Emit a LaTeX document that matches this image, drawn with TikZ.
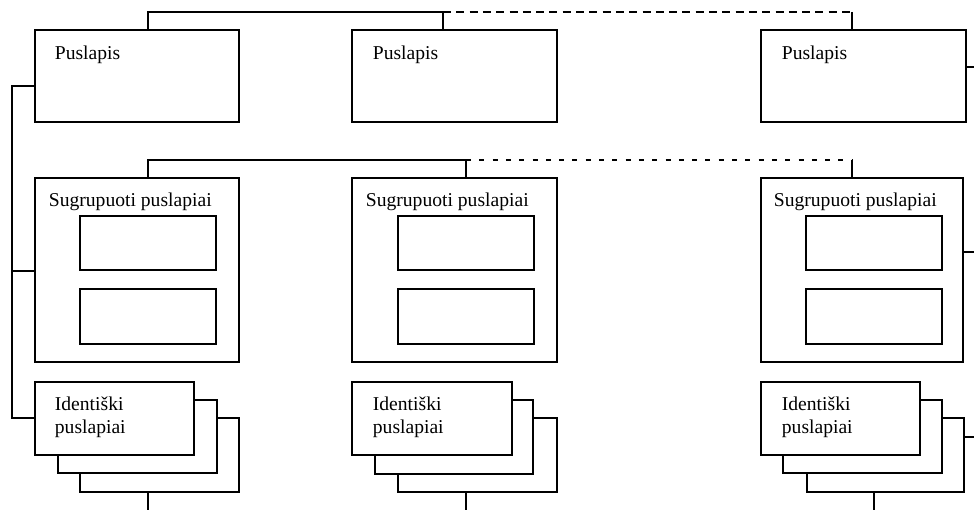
\documentclass[tikz,border=0pt]{standalone}
\usepackage{fontspec}
\setmainfont{Liberation Serif}
\begin{document}
\begin{tikzpicture}[x=1bp,y=-1bp,
  line width=1.8bp,
  page/.style={draw=black,fill=white,rectangle,inner sep=0pt,outer sep=0pt},
  lbl/.style={inner sep=0pt,anchor=base west,align=left,
    font=\fontsize{19.6bp}{22.6bp}\selectfont},
  wire/.style={draw=black,line width=1.8bp},
  dashA/.style={wire,dash pattern=on 8bp off 5.3bp},
  dashB/.style={wire,dash pattern=on 5bp off 8.3bp}]
\useasboundingbox (0,0) rectangle (974,510);

% helper: page box from corner (x1,y1) to (x2,y2)
\newcommand{\pagebox}[5]{%
  \node[page,anchor=north west,minimum width={(#4-#2)*1bp},minimum height={(#5-#3)*1bp}] (#1) at (#2,#3) {};}

% ---- top row: single pages
\pagebox{p1}{35}{30}{239}{122}
\pagebox{p2}{352}{30}{557}{122}
\pagebox{p3}{761}{30}{966}{122}
\node[lbl] (tp1) at (54,60) {Puslapis};
\node[lbl] (tp2) at (372,60) {Puslapis};
\node[lbl] (tp3) at (781,60) {Puslapis};

% ---- middle row: grouped pages
\pagebox{g1}{35}{178}{239}{362}
\pagebox{g2}{352}{178}{557}{362}
\pagebox{g3}{761}{178}{963}{362}
\pagebox{g1a}{80}{216}{216}{270}
\pagebox{g1b}{80}{289}{216}{344}
\pagebox{g2a}{398}{216}{534}{270}
\pagebox{g2b}{398}{289}{534}{344}
\pagebox{g3a}{806}{216}{942}{270}
\pagebox{g3b}{806}{289}{942}{344}
\node[lbl] (tg1) at (48,207) {Sugrupuoti puslapiai};
\node[lbl] (tg2) at (365,207) {Sugrupuoti puslapiai};
\node[lbl] (tg3) at (773,207) {Sugrupuoti puslapiai};

% ---- bottom row: stacks of identical pages (back to front)
\pagebox{i1c}{80}{418}{239}{492}
\pagebox{i1b}{58}{400}{217}{473}
\pagebox{i1}{35}{382}{194}{455}
\pagebox{i2c}{398}{418}{557}{492}
\pagebox{i2b}{375}{400}{533}{474}
\pagebox{i2}{352}{382}{512}{455}
\pagebox{i3c}{807}{418}{964}{492}
\pagebox{i3b}{783}{400}{942}{473}
\pagebox{i3}{761}{382}{920}{455}
% two-line labels: base anchor sits on the last line
\node[lbl] (ti1) at (54,433.5) {Identiški\\puslapiai};
\node[lbl] (ti2) at (372,433.5) {Identiški\\puslapiai};
\node[lbl] (ti3) at (781,433.5) {Identiški\\puslapiai};

% ---- connectors
\coordinate (h1) at (148,12);
\coordinate (h2) at (443,12);
\coordinate (h3) at (852,12);
\draw[wire] (h1 |- p1.north) -- (h1) -- (h2) -- (h2 |- p2.north);
\draw[dashA] (h2) -- (h3);
\draw[wire] (h3) -- (h3 |- p3.north);

\coordinate (k1) at (148,160);
\coordinate (k2) at (466,160);
\coordinate (k3) at (852,160);
\draw[wire] (k1 |- g1.north) -- (k1) -- (k2) -- (k2 |- g2.north);
\draw[dashB] (k2) -- (k3);
\draw[wire] (k3) -- (k3 |- g3.north);

% left rail
\coordinate (r1) at (12,86);
\coordinate (r2) at (12,271);
\coordinate (r3) at (12,418);
\draw[wire] (p1.west |- r1) -- (r1) -- (r3) -- (i1.west |- r3);
\draw[wire] (r2) -- (g1.west |- r2);

% right stubs
\coordinate (e1) at (974,67);
\coordinate (e2) at (974,252);
\coordinate (e3) at (974,437);
\draw[wire] (p3.east |- e1) -- (e1);
\draw[wire] (g3.east |- e2) -- (e2);
\draw[wire] (i3c.east |- e3) -- (e3);

% bottom stubs
\coordinate (b1) at (148,510);
\coordinate (b2) at (466,510);
\coordinate (b3) at (874,510);
\draw[wire] (b1 |- i1c.south) -- (b1);
\draw[wire] (b2 |- i2c.south) -- (b2);
\draw[wire] (b3 |- i3c.south) -- (b3);
\end{tikzpicture}
\end{document}
